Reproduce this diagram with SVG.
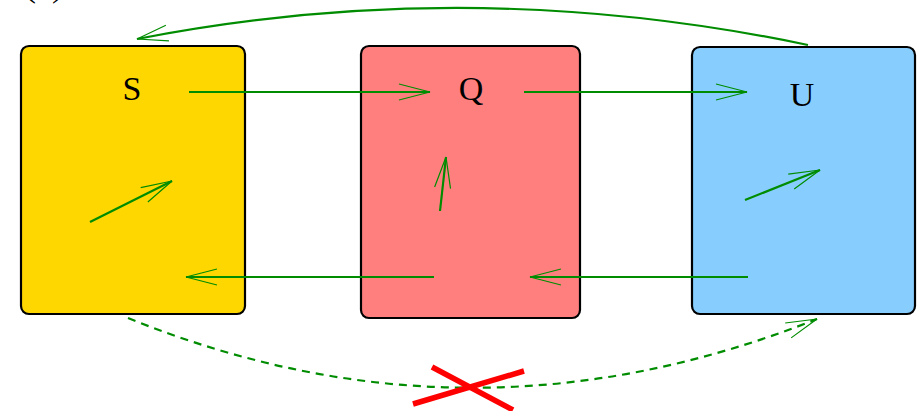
<svg xmlns="http://www.w3.org/2000/svg" width="919" height="411" viewBox="0 0 919 411">
<style>
.box{stroke:#000;stroke-width:2.2}
.lbl{font-family:"Liberation Serif",serif;font-size:34px;fill:#000;text-anchor:middle}
.c{fill:none;stroke:#008c00;stroke-width:2.2}
.d{stroke-dasharray:8,6}
.x{stroke:#ff0000;stroke-width:5.5;fill:none}
</style>
<defs>
<marker id="ah" markerUnits="userSpaceOnUse" markerWidth="40" markerHeight="24" refX="0" refY="0" viewBox="-34 -12 40 24" orient="auto" overflow="visible">
<path d="M-31,-8 L0,0 L-31,8" fill="none" stroke="#008c00" stroke-width="1.2"/>
</marker>
</defs>
<text x="24" y="-4" class="lbl" style="text-anchor:start;font-size:36px">(a)</text>
<g id="S"><rect class="box" x="21" y="46" width="224" height="268" rx="8" fill="#ffd700"/><text class="lbl" x="132" y="100">S</text></g>
<g id="Q"><rect class="box" x="361" y="46" width="219" height="272" rx="8" fill="#ff7f7f"/><text class="lbl" x="471" y="100">Q</text></g>
<g id="U"><rect class="box" x="692" y="47" width="223" height="267" rx="8" fill="#87ceff"/><text class="lbl" x="802" y="106">U</text></g>
<g id="connectors">
<path class="c" d="M808,45 Q470,-26 137,39" marker-end="url(#ah)"/>
<path class="c" d="M189,92 L430,92" marker-end="url(#ah)"/>
<path class="c" d="M524,92 L747,92" marker-end="url(#ah)"/>
<path class="c" d="M90,222 L172,181" marker-end="url(#ah)"/>
<path class="c" d="M440,211 L446,157" marker-end="url(#ah)"/>
<path class="c" d="M745,200 L820,170" marker-end="url(#ah)"/>
<path class="c" d="M434,277 L186,277" marker-end="url(#ah)"/>
<path class="c" d="M748,277 L530,277" marker-end="url(#ah)"/>
<path class="c d" d="M128,318 Q470,457 817,319" marker-end="url(#ah)"/>
</g>
<g id="cross">
<path class="x" d="M432,367 L513,410 M413,404 L524,371"/>
</g>
</svg>
